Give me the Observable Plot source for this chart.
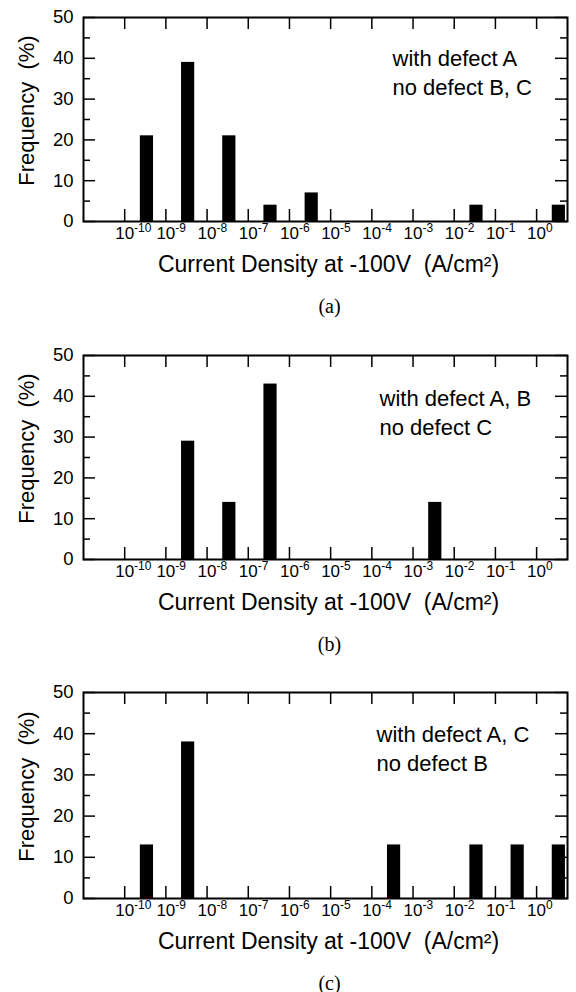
<!DOCTYPE html>
<html><head><meta charset="utf-8">
<script src="https://cdn.jsdelivr.net/npm/d3@7"></script>
<script src="https://cdn.jsdelivr.net/npm/@observablehq/plot@0.6"></script>
<style>
body{margin:0;background:#fff;}
#chart{width:576px;}
#chart svg{display:block;}
</style></head><body><div id="chart"></div>
<script>
// bins are identified by their lower decade exponent (bin = 10^k .. 10^(k+1))
const binsA = [-10, -9, -8, -7, -6, -2, 0];
const freqA = [21, 39, 21, 4, 7, 4, 4];
const binsB = [-9, -8, -7, -3];
const freqB = [29, 14, 43, 14];
const binsC = [-10, -9, -4, -2, -1, 0];
const freqC = [13, 38, 13, 13, 13, 13];
const decadeTicks = [-10, -9, -8, -7, -6, -5, -4, -3, -2, -1, 0];
const yTicks = [0, 10, 20, 30, 40, 50];
const yMinor = [5, 15, 25, 35, 45];
const captions = ["(a)", "(b)", "(c)"];
const notes = [
  ["with defect A", "no defect B, C"],
  ["with defect A, B", "no defect C"],
  ["with defect A, C", "no defect B"]
];
const xTitle = "Current Density at -100V\u00a0\u00a0(A/cm\u00b2)";
const yTitle = "Frequency\u00a0\u00a0(%)";

const SANS = "'Liberation Sans', Arial, Helvetica, sans-serif";
const SERIF = "'Liberation Serif', 'Times New Roman', serif";
const TICKFS = 17;

function panel(i, bins, freq, o) {
  const W = 576, L = 83, R = 9;
  const fw = W - L - R, fh = o.frameH;
  const data = bins.map((k, j) => ({k, f: freq[j]}));
  const decVals = decadeTicks.map(d => 10 ** d);
  const svg = Plot.plot({
    width: W, height: o.height,
    marginLeft: L, marginRight: R, marginTop: o.top, marginBottom: o.height - o.top - fh,
    style: {fontFamily: SANS, color: "#000", background: "#fff", overflow: "visible"},
    x: {type: "log", domain: [1e-11, 10 ** 0.75]},
    y: {domain: [0, 50]},
    marks: [
      Plot.rectY(data, {x1: d => 10 ** (d.k + 0.38), x2: d => 10 ** (d.k + 0.70), y1: 0, y2: "f", fill: "#000"}),
      // inward ticks
      Plot.ruleY(yTicks, {insetRight: fw - 12, strokeWidth: 1.5}),
      Plot.ruleY(yTicks, {insetLeft: fw - 12, strokeWidth: 1.5}),
      Plot.ruleY(yMinor, {insetRight: fw - 7, strokeWidth: 1.5}),
      Plot.ruleY(yMinor, {insetLeft: fw - 7, strokeWidth: 1.5}),
      Plot.ruleX(decVals, {insetTop: fh - 12, strokeWidth: 1.5}),
      Plot.ruleX(decVals, {insetBottom: fh - 12, strokeWidth: 1.5}),
      Plot.frame({strokeWidth: 2}),
      Plot.axisY(yTicks, {tickSize: 0, tickPadding: 10, fontSize: 18.5, label: null}),
      Plot.axisX(decVals, {tickSize: 0, tickPadding: 5, fontSize: TICKFS, label: null,
        tickFormat: d => "10^" + Math.round(Math.log10(d))}),
      Plot.text([yTitle], {frameAnchor: "left", textAnchor: "middle", rotate: -90, dx: -57, dy: -9, fontSize: 22}),
      Plot.text([xTitle], {frameAnchor: "bottom", dx: 3, dy: 50, lineAnchor: "bottom", fontSize: 23}),
      Plot.text([captions[i]], {frameAnchor: "bottom", dx: 4, dy: 91, lineAnchor: "bottom", fontFamily: SERIF, fontSize: 20}),
      Plot.text([notes[i].join("\n")], {frameAnchor: "top-left", dx: o.ndx, dy: o.ndy, textAnchor: "start",
        lineAnchor: "top", fontSize: 22, lineHeight: 1.35})
    ]
  });
  // superscript exponents on the decade tick labels
  svg.querySelectorAll('g[aria-label="x-axis tick label"] text').forEach(t => {
    const s = t.textContent;
    const m = s.match(/^(\d+)\^(.+)$/);
    if (!m) return;
    t.textContent = "";
    t.setAttribute("text-anchor", "start");
    t.setAttribute("dx", (-0.556 * TICKFS).toFixed(1));
    const NS = "http://www.w3.org/2000/svg";
    const b = document.createElementNS(NS, "tspan");
    b.textContent = m[1];
    const sp = document.createElementNS(NS, "tspan");
    sp.textContent = m[2];
    sp.setAttribute("dy", "-7");
    sp.setAttribute("font-size", "12");
    t.appendChild(b); t.appendChild(sp);
  });
  document.getElementById("chart").appendChild(svg);
}

panel(0, binsA, freqA, {height: 336, top: 17, frameH: 204, ndx: 309, ndy: 27});
panel(1, binsB, freqB, {height: 336, top: 19, frameH: 204, ndx: 296, ndy: 29});
panel(2, binsC, freqC, {height: 320, top: 20, frameH: 206, ndx: 293, ndy: 28});
</script></body></html>
